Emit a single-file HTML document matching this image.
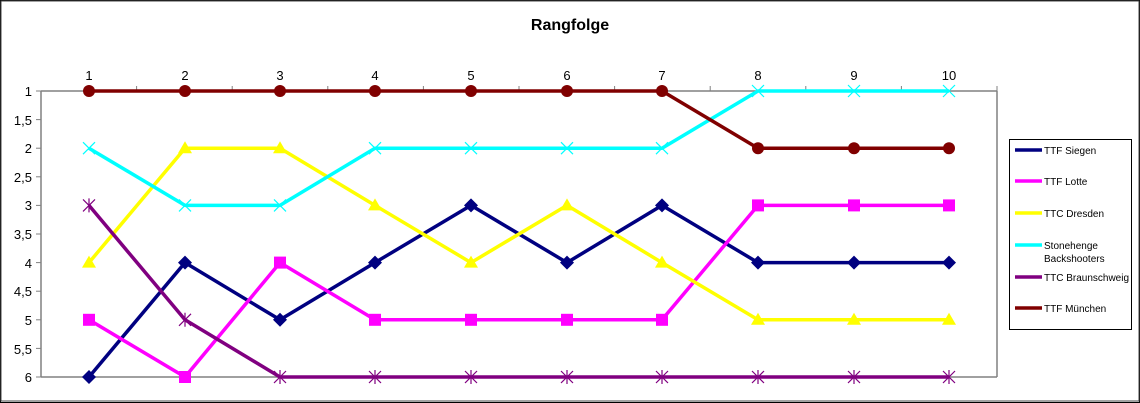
<!DOCTYPE html>
<html><head><meta charset="utf-8"><style>body{margin:0;background:#fff}svg{display:block}</style></head><body>
<svg width="1140" height="403" xmlns="http://www.w3.org/2000/svg" font-family="Liberation Sans, Arial, sans-serif">
<rect x="0.5" y="0.5" width="1139" height="402" fill="#fff" stroke="#000" stroke-width="1"/>
<rect x="1" y="1" width="1138" height="400" fill="none" stroke="#444" stroke-width="1"/>
<text x="570" y="30" text-anchor="middle" font-size="16" font-weight="bold">Rangfolge</text>
<g stroke="#808080" stroke-width="1.5" fill="none">
<line x1="41" y1="91" x2="997" y2="91"/>
<line x1="41" y1="91" x2="41" y2="377"/>
<line x1="997" y1="91" x2="997" y2="377"/>
<line x1="41" y1="377" x2="997" y2="377"/>
</g>
<g stroke="#808080" stroke-width="1">
<line x1="136.6" y1="86" x2="136.6" y2="91"/><line x1="232.2" y1="86" x2="232.2" y2="91"/><line x1="327.8" y1="86" x2="327.8" y2="91"/><line x1="423.4" y1="86" x2="423.4" y2="91"/><line x1="519" y1="86" x2="519" y2="91"/><line x1="614.6" y1="86" x2="614.6" y2="91"/><line x1="710.2" y1="86" x2="710.2" y2="91"/><line x1="805.8" y1="86" x2="805.8" y2="91"/><line x1="901.4" y1="86" x2="901.4" y2="91"/><line x1="997" y1="86" x2="997" y2="91"/>
<line x1="36" y1="91" x2="41" y2="91"/><line x1="36" y1="119.6" x2="41" y2="119.6"/><line x1="36" y1="148.2" x2="41" y2="148.2"/><line x1="36" y1="176.8" x2="41" y2="176.8"/><line x1="36" y1="205.4" x2="41" y2="205.4"/><line x1="36" y1="234" x2="41" y2="234"/><line x1="36" y1="262.6" x2="41" y2="262.6"/><line x1="36" y1="291.2" x2="41" y2="291.2"/><line x1="36" y1="319.8" x2="41" y2="319.8"/><line x1="36" y1="348.4" x2="41" y2="348.4"/><line x1="36" y1="377" x2="41" y2="377"/>
</g>
<g font-size="13" text-anchor="middle">
<text x="89" y="80">1</text><text x="185" y="80">2</text><text x="280" y="80">3</text><text x="375" y="80">4</text><text x="471" y="80">5</text><text x="567" y="80">6</text><text x="662" y="80">7</text><text x="758" y="80">8</text><text x="854" y="80">9</text><text x="949" y="80">10</text>
</g>
<g font-size="13" text-anchor="end">
<text x="32" y="96">1</text><text x="32" y="125">1,5</text><text x="32" y="153">2</text><text x="32" y="182">2,5</text><text x="32" y="210">3</text><text x="32" y="239">3,5</text><text x="32" y="268">4</text><text x="32" y="296">4,5</text><text x="32" y="325">5</text><text x="32" y="354">5,5</text><text x="32" y="382">6</text>
</g>
<g fill="none" stroke-width="3.5" stroke-linejoin="round">
<polyline stroke="#000080" points="89,377 185,262.6 280,319.8 375,262.6 471,205.4 567,262.6 662,205.4 758,262.6 854,262.6 949,262.6"/>
<polyline stroke="#ff00ff" points="89,319.8 185,377 280,262.6 375,319.8 471,319.8 567,319.8 662,319.8 758,205.4 854,205.4 949,205.4"/>
<polyline stroke="#ffff00" points="89,262.6 185,148.2 280,148.2 375,205.4 471,262.6 567,205.4 662,262.6 758,319.8 854,319.8 949,319.8"/>
<polyline stroke="#00ffff" points="89,148.2 185,205.4 280,205.4 375,148.2 471,148.2 567,148.2 662,148.2 758,91 854,91 949,91"/>
<polyline stroke="#800080" points="89,205.4 185,319.8 280,377 375,377 471,377 567,377 662,377 758,377 854,377 949,377"/>
<polyline stroke="#800000" points="89,91 185,91 280,91 375,91 471,91 567,91 662,91 758,148.2 854,148.2 949,148.2"/>
</g>
<g fill="#000080">
<path d="M89 370l7 7-7 7-7-7z"/><path d="M185 255.6l7 7-7 7-7-7z"/><path d="M280 312.8l7 7-7 7-7-7z"/><path d="M375 255.6l7 7-7 7-7-7z"/><path d="M471 198.4l7 7-7 7-7-7z"/><path d="M567 255.6l7 7-7 7-7-7z"/><path d="M662 198.4l7 7-7 7-7-7z"/><path d="M758 255.6l7 7-7 7-7-7z"/><path d="M854 255.6l7 7-7 7-7-7z"/><path d="M949 255.6l7 7-7 7-7-7z"/>
</g>
<g fill="#ff00ff">
<rect x="83" y="313.8" width="12" height="12"/><rect x="179" y="371" width="12" height="12"/><rect x="274" y="256.6" width="12" height="12"/><rect x="369" y="313.8" width="12" height="12"/><rect x="465" y="313.8" width="12" height="12"/><rect x="561" y="313.8" width="12" height="12"/><rect x="656" y="313.8" width="12" height="12"/><rect x="752" y="199.4" width="12" height="12"/><rect x="848" y="199.4" width="12" height="12"/><rect x="943" y="199.4" width="12" height="12"/>
</g>
<g fill="#ffff00">
<path d="M89 255.6l7 12h-14z"/><path d="M185 141.2l7 12h-14z"/><path d="M280 141.2l7 12h-14z"/><path d="M375 198.4l7 12h-14z"/><path d="M471 255.6l7 12h-14z"/><path d="M567 198.4l7 12h-14z"/><path d="M662 255.6l7 12h-14z"/><path d="M758 312.8l7 12h-14z"/><path d="M854 312.8l7 12h-14z"/><path d="M949 312.8l7 12h-14z"/>
</g>
<g stroke="#00ffff" stroke-width="1.2">
<path d="M83 142.2l12 12M95 142.2l-12 12M179 199.4l12 12M191 199.4l-12 12M274 199.4l12 12M286 199.4l-12 12M369 142.2l12 12M381 142.2l-12 12M465 142.2l12 12M477 142.2l-12 12M561 142.2l12 12M573 142.2l-12 12M656 142.2l12 12M668 142.2l-12 12M752 85l12 12M764 85l-12 12M848 85l12 12M860 85l-12 12M943 85l12 12M955 85l-12 12"/>
</g>
<g stroke="#800080" stroke-width="1.2">
<path d="M83 199.4l12 12M95 199.4l-12 12M89 198.4v14M179 313.8l12 12M191 313.8l-12 12M185 312.8v14M274 371l12 12M286 371l-12 12M280 370v14M369 371l12 12M381 371l-12 12M375 370v14M465 371l12 12M477 371l-12 12M471 370v14M561 371l12 12M573 371l-12 12M567 370v14M656 371l12 12M668 371l-12 12M662 370v14M752 371l12 12M764 371l-12 12M758 370v14M848 371l12 12M860 371l-12 12M854 370v14M943 371l12 12M955 371l-12 12M949 370v14"/>
</g>
<g fill="#800000">
<circle cx="89" cy="91" r="6"/><circle cx="185" cy="91" r="6"/><circle cx="280" cy="91" r="6"/><circle cx="375" cy="91" r="6"/><circle cx="471" cy="91" r="6"/><circle cx="567" cy="91" r="6"/><circle cx="662" cy="91" r="6"/><circle cx="758" cy="148.2" r="6"/><circle cx="854" cy="148.2" r="6"/><circle cx="949" cy="148.2" r="6"/>
</g>
<rect x="1009.5" y="139.5" width="122" height="190" fill="#fff" stroke="#000" stroke-width="1"/>
<g stroke-width="3.5">
<line x1="1015" y1="150" x2="1042" y2="150" stroke="#000080"/>
<line x1="1015" y1="181" x2="1042" y2="181" stroke="#ff00ff"/>
<line x1="1015" y1="213" x2="1042" y2="213" stroke="#ffff00"/>
<line x1="1015" y1="245" x2="1042" y2="245" stroke="#00ffff"/>
<line x1="1015" y1="277" x2="1042" y2="277" stroke="#800080"/>
<line x1="1015" y1="308" x2="1042" y2="308" stroke="#800000"/>
</g>
<g font-size="10">
<text x="1044" y="154">TTF Siegen</text>
<text x="1044" y="185">TTF Lotte</text>
<text x="1044" y="217">TTC Dresden</text>
<text x="1044" y="249">Stonehenge</text>
<text x="1044" y="262">Backshooters</text>
<text x="1044" y="281">TTC Braunschweig</text>
<text x="1044" y="312">TTF München</text>
</g>
</svg>
</body></html>
